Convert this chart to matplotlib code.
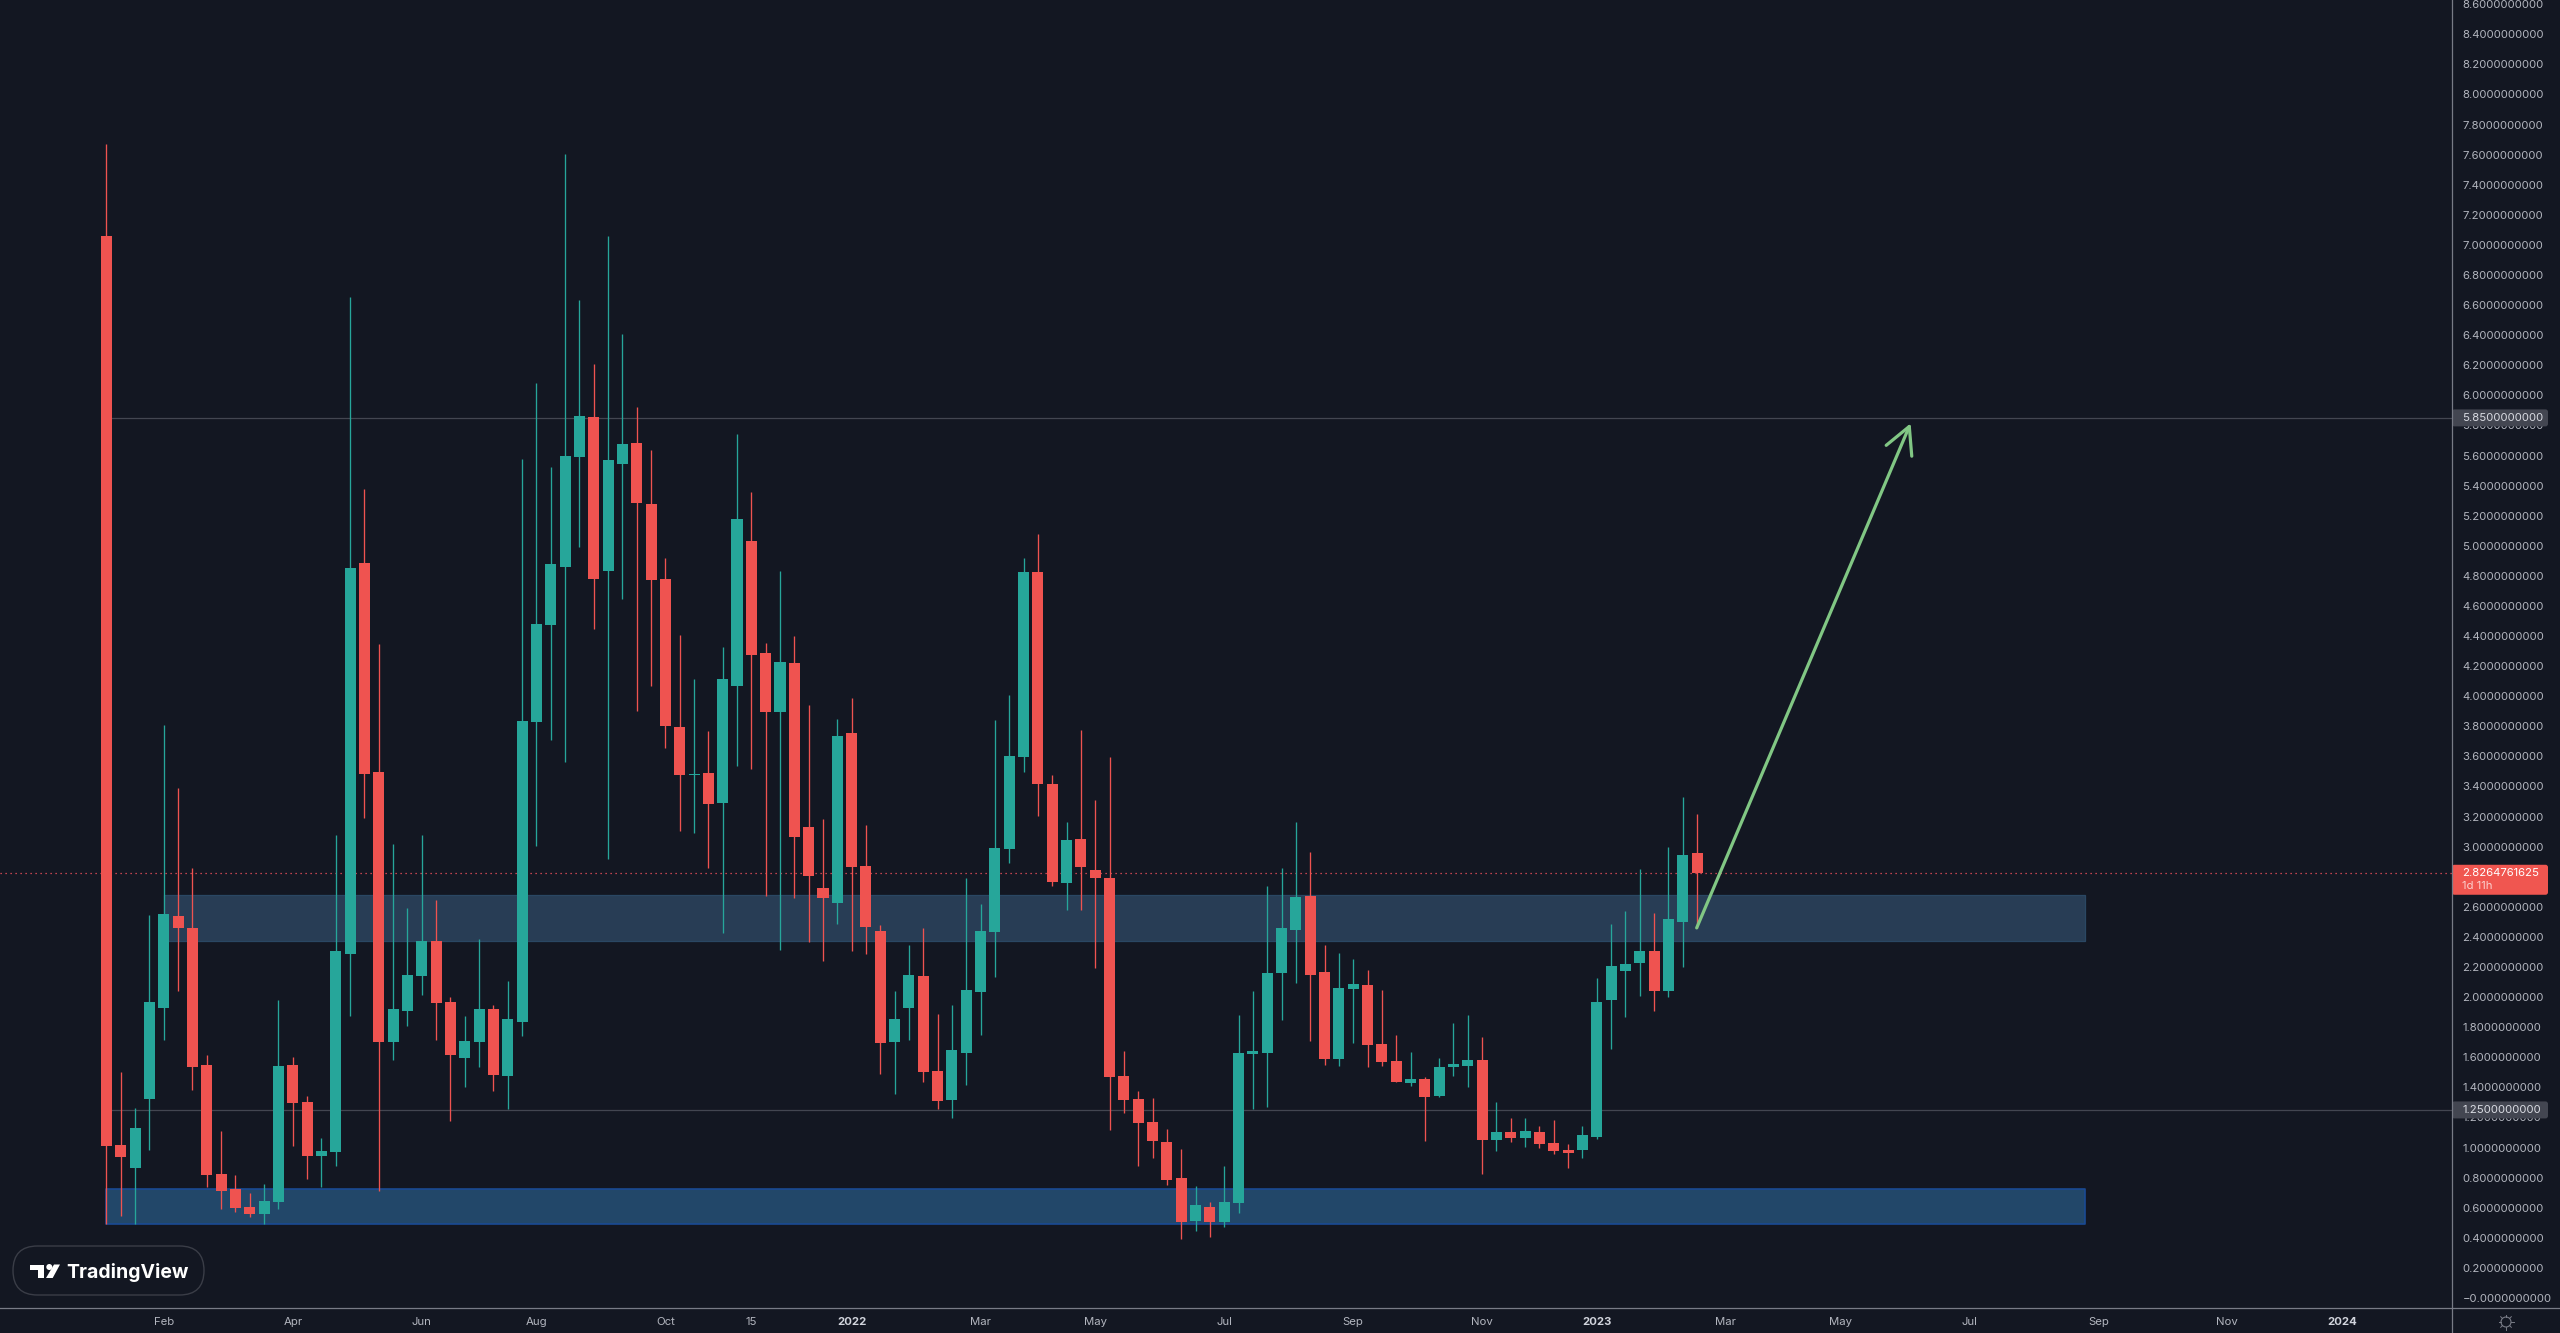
import numpy as np
import matplotlib
matplotlib.use("Agg")
import matplotlib.pyplot as plt
from matplotlib.patches import FancyBboxPatch, Polygon, Circle

# weekly candles
opens = [7.057, 1.019, 0.861, 1.324, 1.930, 2.540, 2.459, 1.548, 0.826, 0.724,
         0.607, 0.556, 0.638, 1.548, 1.304, 0.943, 0.968, 2.286, 4.885, 3.497,
         1.701, 1.909, 2.138, 2.372, 1.965, 1.594, 1.701, 1.920, 1.477, 1.833,
         3.827, 4.473, 4.860, 5.592, 5.857, 4.835, 5.542, 5.684, 5.277, 4.779,
         3.797, 3.476, 3.490, 3.289, 4.066, 5.033, 4.288, 3.897, 4.219, 3.132,
         2.725, 2.624, 3.756, 2.870, 2.439, 1.702, 1.928, 2.141, 1.509, 1.316,
         1.630, 2.032, 2.431, 2.983, 3.595, 4.827, 3.418, 2.757, 3.051, 2.846,
         2.793, 1.477, 1.324, 1.171, 1.038, 0.796, 0.510, 0.603, 0.506, 0.631,
         1.622, 1.630, 2.161, 2.447, 2.673, 2.166, 1.588, 2.055, 2.080, 1.689,
         1.574, 1.430, 1.455, 1.344, 1.535, 1.542, 1.581, 1.050, 1.104, 1.064,
         1.104, 1.031, 0.985, 0.985, 1.071, 1.980, 2.173, 2.227, 2.306, 2.041,
         2.500, 2.957]
closes = [1.009, 0.938, 1.131, 1.965, 2.550, 2.459, 1.533, 0.816, 0.709, 0.597,
          0.556, 0.643, 1.543, 1.294, 0.943, 0.979, 2.306, 4.850, 3.481, 1.701,
          1.920, 2.149, 2.372, 1.960, 1.614, 1.706, 1.920, 1.482, 1.853, 3.837,
          4.478, 4.880, 5.598, 5.862, 4.779, 5.572, 5.679, 5.282, 4.773, 3.802,
          3.476, 3.481, 3.285, 4.114, 5.177, 4.275, 3.897, 4.227, 3.063, 2.805,
          2.661, 3.736, 2.866, 2.467, 1.694, 1.855, 2.145, 1.501, 1.308, 1.650,
          2.048, 2.439, 2.991, 3.603, 4.827, 3.418, 2.765, 3.043, 2.866, 2.793,
          1.468, 1.316, 1.163, 1.042, 0.784, 0.506, 0.619, 0.506, 0.639, 1.630,
          1.642, 2.161, 2.459, 2.665, 2.148, 1.588, 2.059, 2.087, 1.682, 1.570,
          1.435, 1.455, 1.337, 1.535, 1.556, 1.581, 1.050, 1.104, 1.064, 1.111,
          1.024, 0.978, 0.964, 1.083, 1.968, 2.206, 2.220, 2.306, 2.041, 2.518,
          2.945, 2.8265]
highs = [7.673, 1.503, 1.263, 2.545, 3.807, 3.390, 2.856, 1.614, 1.111, 0.816,
         0.699, 0.760, 1.981, 1.604, 1.340, 1.065, 3.080, 6.656, 5.379, 4.346,
         3.018, 2.591, 3.080, 2.647, 2.001, 1.874, 2.388, 1.945, 2.108, 5.577,
         6.081, 5.521, 7.602, 6.635, 6.208, 7.057, 6.406, 5.923, 5.638, 4.921,
         4.407, 4.112, 3.768, 4.328, 5.741, 5.359, 4.352, 4.831, 4.400, 3.941,
         3.184, 3.849, 3.989, 3.144, 2.479, 2.040, 2.346, 2.459, 1.887, 1.948,
         2.793, 2.620, 3.840, 4.010, 4.920, 5.077, 3.478, 3.164, 3.776, 3.309,
         3.595, 1.642, 1.376, 1.328, 1.122, 0.989, 0.744, 0.639, 0.877, 1.879,
         2.040, 2.737, 2.858, 3.164, 2.964, 2.346, 2.292, 2.253, 2.180, 2.048,
         1.747, 1.635, 1.469, 1.595, 1.828, 1.882, 1.735, 1.302, 1.197, 1.197,
         1.143, 1.183, 1.024, 1.143, 2.127, 2.486, 2.572, 2.852, 2.558, 2.996,
         3.330, 3.218]
lows = [0.495, 0.546, 0.495, 0.984, 1.716, 2.042, 1.380, 0.739, 0.592, 0.571,
        0.541, 0.495, 0.592, 1.009, 0.790, 0.739, 0.877, 1.874, 3.191, 0.714,
        1.584, 1.808, 2.016, 1.716, 1.177, 1.401, 1.533, 1.375, 1.258, 1.742,
        3.003, 3.710, 3.563, 4.992, 4.448, 2.917, 4.646, 3.904, 4.066, 3.654,
        3.105, 3.090, 2.858, 2.427, 3.534, 3.514, 2.673, 2.314, 2.661, 2.367,
        2.242, 2.487, 2.306, 2.286, 1.489, 1.356, 1.714, 1.436, 1.255, 1.195,
        1.416, 1.746, 2.133, 2.890, 3.494, 3.204, 2.737, 2.580, 2.580, 2.193,
        1.118, 1.231, 0.877, 0.929, 0.752, 0.393, 0.446, 0.406, 0.470, 0.566,
        1.255, 1.271, 1.847, 2.093, 1.707, 1.549, 1.542, 1.696, 1.535, 1.542,
        1.435, 1.409, 1.043, 1.337, 1.476, 1.402, 0.824, 0.978, 1.036, 1.003,
        0.996, 0.957, 0.863, 0.931, 1.057, 1.656, 1.868, 2.008, 1.908, 2.001,
        2.199, 2.458]

month_labels = ["Feb", "Apr", "Jun", "Aug", "Oct", "15", "2022", "Mar", "May", "Jul",
                "Sep", "Nov", "2023", "Mar", "May", "Jul", "Sep", "Nov", "2024"]
month_weeks = [4, 13, 22, 30, 39, 45, 52, 61, 69, 78, 87, 96, 104, 113, 121, 130, 139, 148, 156]
price_ticks = np.arange(0, 44) * 0.2

last_price = 2.8264761625
level_high = 5.85
level_low = 1.25
upper_zone = (2.375, 2.679)
lower_zone = (0.492, 0.7245)
zone_end = 138.07
arrow_from = (110.97, 2.46)
arrow_to = (125.9, 5.814)

BG = "#131722"
UP = "#26a69a"
DOWN = "#ef5350"
AXIS = "#787b86"
TXT = "#b2b5be"
W, H = 2560, 1333

plt.rcParams["font.family"] = ["Inter", "DejaVu Sans"]

fig = plt.figure(figsize=(W / 100, H / 100), dpi=100, facecolor=BG)
ax = fig.add_axes([0, 25 / H, 2452 / W, 1308 / H], facecolor=BG)
ax.set_xlim(-7.432, 163.68)
ax.set_ylim(-0.0665, 8.6277)

x = np.arange(len(opens))
opens = np.array(opens)
closes = np.array(closes)
colors = [UP if c >= o else DOWN for o, c in zip(opens, closes)]

# zones and levels go under the candles
ax.fill_between([4, zone_end], upper_zone[0], upper_zone[1], facecolor="#283d55",
                edgecolor="#2a4763", lw=0.9, zorder=1)
ax.fill_between([0, zone_end], lower_zone[0], lower_zone[1], facecolor="#224769",
                edgecolor="#1a4a94", lw=1.2, zorder=1)
ax.hlines([level_high, level_low], 0, 163.68, color="#434651", lw=0.9, zorder=1.5)
ax.axhline(last_price, color="#f7525f", lw=0.9, ls=(0, (1, 3)), zorder=1.5)

ax.vlines(x, lows, highs, color=colors, lw=0.95, zorder=2)
ax.bar(x, closes - opens, bottom=opens, width=0.77, color=colors, lw=0, zorder=3)

ax.annotate("", xy=arrow_to, xytext=arrow_from, zorder=4,
            arrowprops=dict(arrowstyle="->,head_length=0.95,head_width=0.5", mutation_scale=20,
                            color="#81c784", lw=2.3, shrinkA=0, shrinkB=0))

for s in ax.spines.values():
    s.set_visible(False)
ax.yaxis.tick_right()
ax.set_yticks(price_ticks)
ax.set_yticklabels(["\u22120.0000000000"] + [f"{v:.10f}" for v in price_ticks[1:]])
ax.tick_params(axis="y", length=0, pad=7.5, labelsize=8.2, labelcolor=TXT)
ax.set_xticks(month_weeks)
ax.set_xticklabels(month_labels)
ax.tick_params(axis="x", length=0, pad=6.5, labelsize=8.2, labelcolor=TXT)
for lab in ax.get_xticklabels():
    if lab.get_text().isdigit() and len(lab.get_text()) == 4:
        lab.set_fontweight("bold")
        lab.set_color("#d1d4dc")

# overlay in pixels for the chrome: axis lines, price tags, logo
over = fig.add_axes([0, 0, 1, 1])
over.set_xlim(0, W)
over.set_ylim(H, 0)
over.axis("off")
over.plot([2452, 2452], [0, H], color=AXIS, lw=0.9)
over.plot([0, W], [1308, 1308], color=AXIS, lw=0.9)


def price_y(v):
    return H - ax.transData.transform((0, v))[1]


def tag(v, top, bottom, color):
    over.add_patch(FancyBboxPatch((2452, top), 96, bottom - top, boxstyle="round,pad=0,rounding_size=2.5",
                                  facecolor=color, edgecolor="none", mutation_aspect=1))


for v in [level_high, level_low]:
    y = price_y(v)
    tag(v, y - 8.5, y + 8.5, "#434651")
    over.text(2462.5, y, f"{v:.10f}", color="#d9dbe2", fontsize=8.2, va="center")

y = price_y(last_price)
tag(last_price, y - 8, y + 22, "#f05650")
over.text(2462.5, y, f"{last_price:.10f}", color="white", fontsize=8.2, va="center")
over.text(2462.5, y + 13.5, "1d 11h", color="#fbd0ce", fontsize=8.2, va="center")

# TradingView badge
over.add_patch(FancyBboxPatch((13, 1246), 191, 49, boxstyle="round,pad=0,rounding_size=24.5",
                              facecolor=BG, edgecolor="#3a3d47", lw=1.0))
over.add_patch(Polygon([(30, 1264.5), (44, 1264.5), (44, 1278), (37.5, 1278), (37.5, 1270), (30, 1270)],
                       facecolor="white", edgecolor="none"))
over.add_patch(Circle((49.3, 1267), 3, facecolor="white", edgecolor="none"))
over.add_patch(Polygon([(54, 1264.5), (60, 1264.5), (52.7, 1278), (46, 1278)], facecolor="white", edgecolor="none"))
over.text(66, 1272.5, "TradingView", color="white", fontsize=14, fontweight="bold", va="center")

# settings gear
over.add_patch(Circle((2506, 1322), 5, facecolor="none", edgecolor=AXIS, lw=0.8))
for a in np.arange(8) * np.pi / 4:
    over.plot([2506 + 5 * np.cos(a), 2506 + 7.5 * np.cos(a)], [1322 + 5 * np.sin(a), 1322 + 7.5 * np.sin(a)],
              color=AXIS, lw=0.7)

fig.savefig("out.png", dpi=100, facecolor=BG)
